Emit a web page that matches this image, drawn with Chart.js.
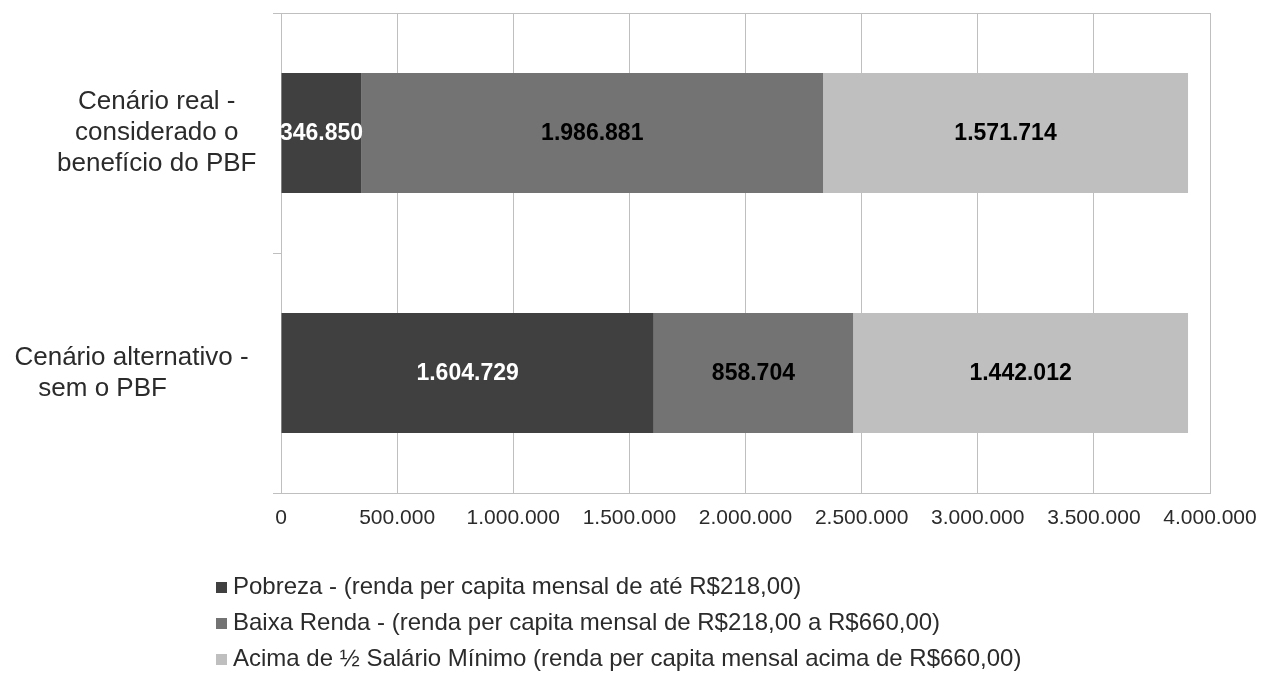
<!DOCTYPE html>
<html lang="pt-BR">
<head>
<meta charset="utf-8">
<title>Cenário real x Cenário alternativo - PBF</title>
<script src="https://cdn.jsdelivr.net/npm/chart.js@4.4.1/dist/chart.umd.min.js"></script>
<style>
  html, body { margin: 0; padding: 0; background: #fff; }
  canvas { display: block; }
</style>
</head>
<body>
<canvas id="chart" width="1261" height="673"></canvas>
<script>
// dados
const categories = [
    ["Cenário real -", "considerado o", "benefício do PBF"],
    ["Cenário alternativo -", "sem o PBF"],
];
const seriesNames = [
    "Pobreza - (renda per capita mensal de até R$218,00)",
    "Baixa Renda - (renda per capita mensal de R$218,00 a R$660,00)",
    "Acima de ½ Salário Mínimo (renda per capita mensal acima de R$660,00)",
];
const pobreza = [346850, 1604729];
const baixaRenda = [1986881, 858704];
const acimaMeioSalario = [1571714, 1442012];
const xMin = 0;
const xMax = 4000000;
const xStep = 500000;

const colors = ["#404040", "#737373", "#bfbfbf"];
const valueColors = ["#ffffff", "#000000", "#000000"];
const textColor = "#2b2b2b";
const gridColor = "#bfbfbf";
const fontFamily = '"Liberation Sans", Arial, sans-serif';

// espaços para deslocar cada linha dos rótulos (+ à esquerda, - à direita)
const labelShift = [[7, 7, 7], [0, -8]];

function fmt(v) {
    return String(v).replace(/\B(?=(\d{3})+(?!\d))/g, ".");
}

function shiftLine(s, n) {
    return n >= 0 ? " ".repeat(n) + s : s + " ".repeat(-n);
}

const valueLabels = {
    id: "valueLabels",
    afterDatasetsDraw(chart) {
        const ctx = chart.ctx;
        ctx.save();
        ctx.font = "bold 23px " + fontFamily;
        ctx.textAlign = "center";
        ctx.textBaseline = "middle";
        chart.data.datasets.forEach((ds, i) => {
            chart.getDatasetMeta(i).data.forEach((bar, j) => {
                ctx.fillStyle = valueColors[i];
                ctx.fillText(fmt(ds.data[j]), (bar.x + bar.base) / 2, bar.y + 1);
            });
        });
        ctx.restore();
    },
};

const stackedLegend = {
    id: "stackedLegend",
    afterDraw(chart) {
        const ctx = chart.ctx;
        ctx.save();
        ctx.font = "24px " + fontFamily;
        ctx.textBaseline = "middle";
        ctx.textAlign = "left";
        chart.data.datasets.forEach((ds, i) => {
            const y = 587 + i * 36;
            ctx.fillStyle = ds.backgroundColor;
            ctx.fillRect(216, y - 5, 11, 11);
            ctx.fillStyle = textColor;
            ctx.fillText(ds.label, 233, y);
        });
        ctx.restore();
    },
};

const ctx = document.getElementById("chart").getContext("2d");
const chart = new Chart(ctx, {
    type: "bar",
    data: {
        labels: categories.map((c) => c.join(" ")),
        datasets: [
            { label: seriesNames[0], data: pobreza, backgroundColor: colors[0] },
            { label: seriesNames[1], data: baixaRenda, backgroundColor: colors[1] },
            { label: seriesNames[2], data: acimaMeioSalario, backgroundColor: colors[2] },
        ],
    },
    options: {
        indexAxis: "y",
        responsive: false,
        animation: false,
        categoryPercentage: 0.5,
        barPercentage: 1,
        layout: {
            padding: { top: 13, right: 51, bottom: 143, left: 0 },
        },
        plugins: {
            legend: { display: false },
            tooltip: { enabled: false },
        },
        scales: {
            x: {
                stacked: true,
                min: xMin,
                max: xMax,
                grid: { color: gridColor, drawTicks: false },
                border: { color: gridColor },
                ticks: {
                    stepSize: xStep,
                    padding: 13,
                    color: textColor,
                    font: { family: fontFamily, size: 21 },
                    callback: (v) => fmt(v),
                },
                afterFit(scale) {
                    scale.height = 37;
                    scale.paddingLeft = 0;
                    scale.paddingRight = 0;
                },
            },
            y: {
                stacked: true,
                grid: {
                    offset: true,
                    color: (c) => (c.index === 0 ? gridColor : "rgba(0,0,0,0)"),
                    tickColor: gridColor,
                    tickLength: 8,
                },
                border: { color: gridColor },
                ticks: {
                    crossAlign: "center",
                    padding: 16.5,
                    color: textColor,
                    font: { family: fontFamily, size: 26 },
                    callback: function (v, i) {
                        return categories[i].map((s, k) => shiftLine(s, labelShift[i][k]));
                    },
                },
                afterFit(scale) {
                    scale.width = 281;
                    scale.paddingTop = 0;
                    scale.paddingBottom = 0;
                },
            },
        },
    },
    plugins: [valueLabels, stackedLegend],
});
</script>
</body>
</html>
